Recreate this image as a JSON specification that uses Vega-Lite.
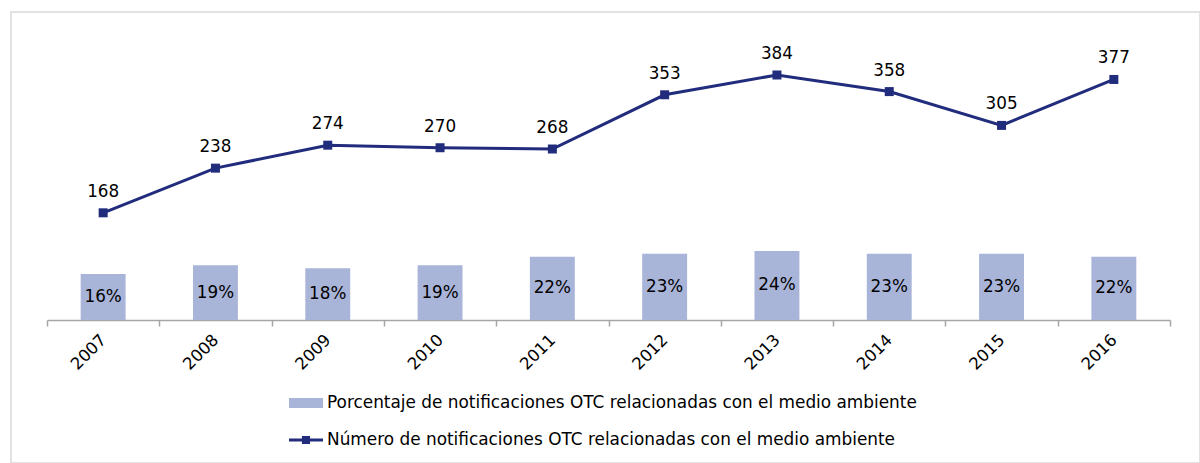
{
  "$schema": "https://vega.github.io/schema/vega-lite/v6.json",
  "autosize": {"type": "none"},
  "padding": {"left": 11, "top": 12, "right": 0, "bottom": 0},
  "width": 1189,
  "height": 451,
  "background": "white",
  "config": {
    "view": {"stroke": "#D9D9D9", "strokeWidth": 1.5},
    "font": "DejaVu Sans"
  },
  "data": {
    "values": [
      {"year": "2007", "pct": 0.16, "num": 168},
      {"year": "2008", "pct": 0.19, "num": 238},
      {"year": "2009", "pct": 0.18, "num": 274},
      {"year": "2010", "pct": 0.19, "num": 270},
      {"year": "2011", "pct": 0.22, "num": 268},
      {"year": "2012", "pct": 0.23, "num": 353},
      {"year": "2013", "pct": 0.24, "num": 384},
      {"year": "2014", "pct": 0.23, "num": 358},
      {"year": "2015", "pct": 0.23, "num": 305},
      {"year": "2016", "pct": 0.22, "num": 377}
    ]
  },
  "encoding": {
    "x": {
      "field": "year",
      "type": "ordinal",
      "scale": {"range": [36, 1159], "paddingInner": 0, "paddingOuter": 0},
      "axis": {
        "title": null,
        "offset": -143,
        "tickBand": "extent",
        "tickSize": 6,
        "tickColor": "#A6A6A6",
        "tickWidth": 1.5,
        "domainColor": "#A6A6A6",
        "domainWidth": 1.5,
        "labelAngle": -45,
        "labelAlign": "right",
        "labelBaseline": "middle",
        "labelPadding": 11,
        "labelFontSize": 16.5,
        "labelColor": "#000000",
        "labelFont": "DejaVu Sans",
        "grid": false
      }
    }
  },
  "layer": [
    {
      "mark": {"type": "bar", "width": {"band": 0.4}},
      "encoding": {
        "y": {"field": "pct", "type": "quantitative", "scale": {"domain": [0, 1.042], "range": [308, 8], "nice": false}, "axis": null},
        "fill": {
          "datum": "Porcentaje de notificaciones OTC relacionadas con el medio ambiente",
          "scale": {"range": ["#A9B4D9"]},
          "legend": {
            "orient": "none",
            "legendX": 278,
            "legendY": 374,
            "title": null,
            "padding": 0,
            "symbolType": "M-1,-0.3H1V0.3H-1Z",
            "symbolSize": 1156,
            "symbolStrokeWidth": 0,
            "labelFontSize": 16.9,
            "labelFont": "DejaVu Sans",
            "labelColor": "#000000",
            "labelOffset": 4,
            "labelLimit": 0
          }
        }
      }
    },
    {
      "mark": {"type": "text", "fontSize": 16.8, "color": "#000000", "baseline": "middle", "font": "DejaVu Sans"},
      "encoding": {
        "y": {"field": "pct", "type": "quantitative", "scale": {"domain": [0, 2.084], "range": [308, 8], "nice": false}, "axis": null},
        "text": {"field": "pct", "type": "quantitative", "format": ".0%"}
      }
    },
    {
      "mark": {"type": "text", "fontSize": 16.8, "color": "#000000", "baseline": "middle", "font": "DejaVu Sans", "dy": -21},
      "encoding": {
        "y": {"field": "num", "type": "quantitative", "scale": {"domain": [0, 470.2], "range": [308, 8], "nice": false}, "axis": null},
        "text": {"field": "num", "type": "quantitative"}
      }
    },
    {
      "mark": {"type": "line", "strokeWidth": 3},
      "encoding": {
        "y": {"field": "num", "type": "quantitative", "scale": {"domain": [0, 470.2], "range": [308, 8], "nice": false}, "axis": null},
        "stroke": {
          "datum": "Número de notificaciones OTC relacionadas con el medio ambiente",
          "scale": {"range": ["#222C7D"]},
          "legend": {
            "orient": "none",
            "legendX": 278,
            "legendY": 411,
            "title": null,
            "padding": 0,
            "symbolType": "M-1,-0.09H1V0.09H-1Z M-0.24,-0.24H0.24V0.24H-0.24Z",
            "symbolSize": 1156,
            "symbolStrokeWidth": 0,
            "symbolFillColor": "#222C7D",
            "labelFontSize": 16.9,
            "labelFont": "DejaVu Sans",
            "labelColor": "#000000",
            "labelOffset": 4,
            "labelLimit": 0
          }
        }
      }
    },
    {
      "mark": {"type": "point", "shape": "square", "filled": true, "size": 81, "color": "#222C7D", "opacity": 1},
      "encoding": {
        "y": {"field": "num", "type": "quantitative", "scale": {"domain": [0, 470.2], "range": [308, 8], "nice": false}, "axis": null}
      }
    }
  ],
  "resolve": {"scale": {"y": "independent"}}
}
